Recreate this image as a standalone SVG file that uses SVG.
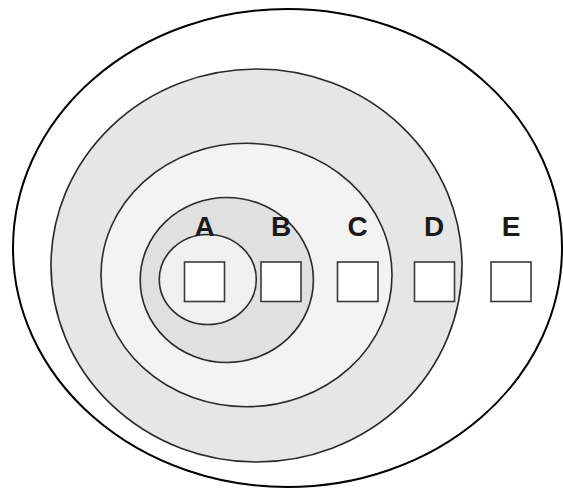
<svg xmlns="http://www.w3.org/2000/svg" width="563" height="490" viewBox="0 0 563 490">
<style>
.ring{stroke:#2a2a2a;stroke-width:1.6}
.box{fill:#fff;stroke:#3a3a3a;stroke-width:1.6}
.lbl{font-family:"Liberation Sans",Arial,sans-serif;font-weight:bold;font-size:28px;fill:#1a1a1a;text-anchor:middle}
</style>
<rect width="563" height="490" fill="#fff"/>
<g id="outer"><ellipse cx="287.5" cy="248" rx="274.5" ry="239" fill="#fff" stroke="#000" stroke-width="2"/></g>
<g id="ring-D"><ellipse class="ring" cx="256.5" cy="265.5" rx="205.5" ry="196.5" fill="#e6e6e6"/></g>
<g id="ring-C"><ellipse class="ring" cx="246.5" cy="275" rx="145.5" ry="131.7" fill="#f3f3f3"/></g>
<g id="ring-B"><ellipse class="ring" cx="226.8" cy="280" rx="86.6" ry="82.5" fill="#e0e0e0"/></g>
<g id="ring-A"><ellipse class="ring" cx="207.8" cy="279.5" rx="48.5" ry="45" fill="#f0f0f0"/></g>
<g id="node-A"><text class="lbl" x="204.5" y="236">A</text><rect class="box" x="184.5" y="262" width="40" height="39.5"/></g>
<g id="node-B"><text class="lbl" x="281" y="236">B</text><rect class="box" x="261" y="262" width="40" height="39.5"/></g>
<g id="node-C"><text class="lbl" x="357.5" y="236">C</text><rect class="box" x="337.5" y="262" width="40.5" height="39.5"/></g>
<g id="node-D"><text class="lbl" x="434" y="236">D</text><rect class="box" x="414.5" y="262" width="40" height="39.5"/></g>
<g id="node-E"><text class="lbl" x="511" y="236">E</text><rect class="box" x="491" y="262" width="40" height="39.5"/></g>
<g id="connectors"></g>
</svg>
